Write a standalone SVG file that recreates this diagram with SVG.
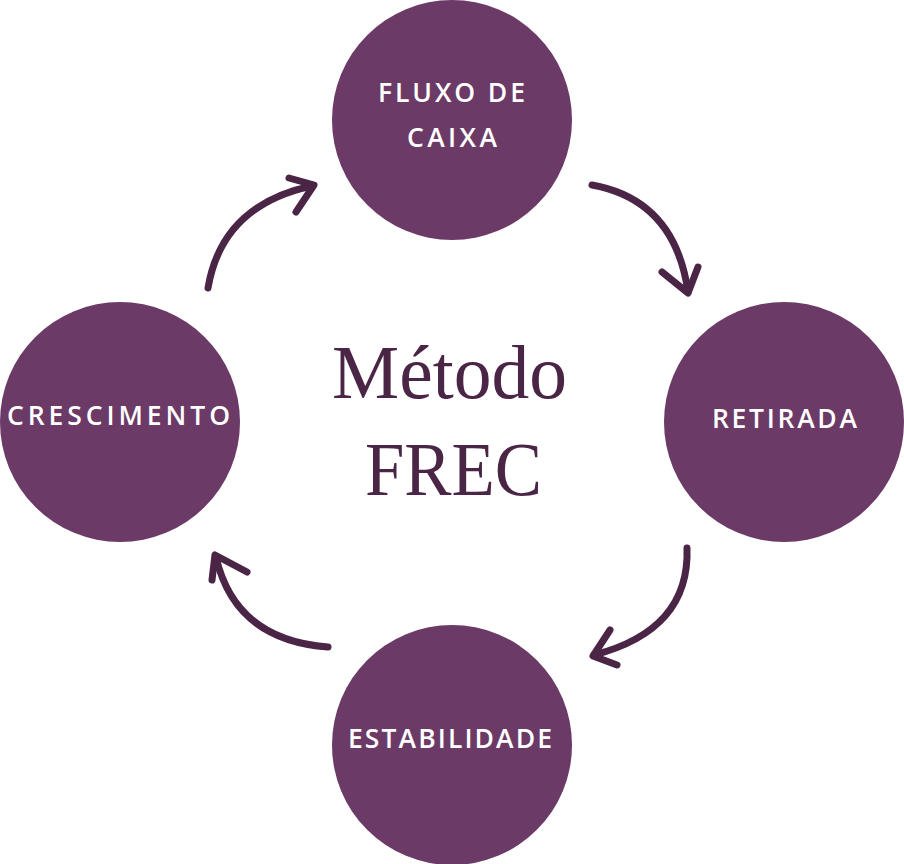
<svg xmlns="http://www.w3.org/2000/svg" width="904" height="864" viewBox="0 0 904 864">
<style>
.node{fill:#6b3a66}
.lbl{fill:#ffffff;font-family:"Open Sans","DejaVu Sans",sans-serif;font-size:26.5px;font-weight:600}
.arr{fill:none;stroke:#4a2545;stroke-width:7;stroke-linecap:round;stroke-linejoin:round}
.title{fill:#4a2545;font-family:"Liberation Serif","DejaVu Serif",serif;font-size:76px}
</style>
<rect width="904" height="864" fill="#ffffff"/>
<g id="fluxo"><circle class="node" cx="452" cy="120" r="120"/><text class="lbl" x="378" y="102" textLength="147" lengthAdjust="spacing">FLUXO DE</text><text class="lbl" x="407" y="147" textLength="90" lengthAdjust="spacing">CAIXA</text></g>
<g id="retirada"><circle class="node" cx="784" cy="422" r="120"/><text class="lbl" x="712" y="428" textLength="145" lengthAdjust="spacing">RETIRADA</text></g>
<g id="estabilidade"><circle class="node" cx="452" cy="745" r="120"/><text class="lbl" x="348" y="748" textLength="204" lengthAdjust="spacing">ESTABILIDADE</text></g>
<g id="crescimento"><circle class="node" cx="120" cy="422" r="120"/><text class="lbl" x="7" y="425" textLength="223" lengthAdjust="spacing">CRESCIMENTO</text></g>
<g id="title"><text class="title" x="332" y="398" textLength="235" lengthAdjust="spacingAndGlyphs">Método</text><text class="title" x="365" y="495" textLength="177" lengthAdjust="spacingAndGlyphs">FREC</text></g>
<g id="connectors">
<path class="arr" d="M208,288 Q222,205 312,186"/><path class="arr" d="M289,178 L314,185 L296,212"/>
<path class="arr" d="M592,185 Q675,200 688,292"/><path class="arr" d="M662,272 L688,293 L698,267"/>
<path class="arr" d="M687,548 Q690,630 594,655"/><path class="arr" d="M610,630 L593,656 L617,665"/>
<path class="arr" d="M328,647 Q235,640 216,557"/><path class="arr" d="M247,572 L215,555 L212,580"/>
</g>
</svg>
